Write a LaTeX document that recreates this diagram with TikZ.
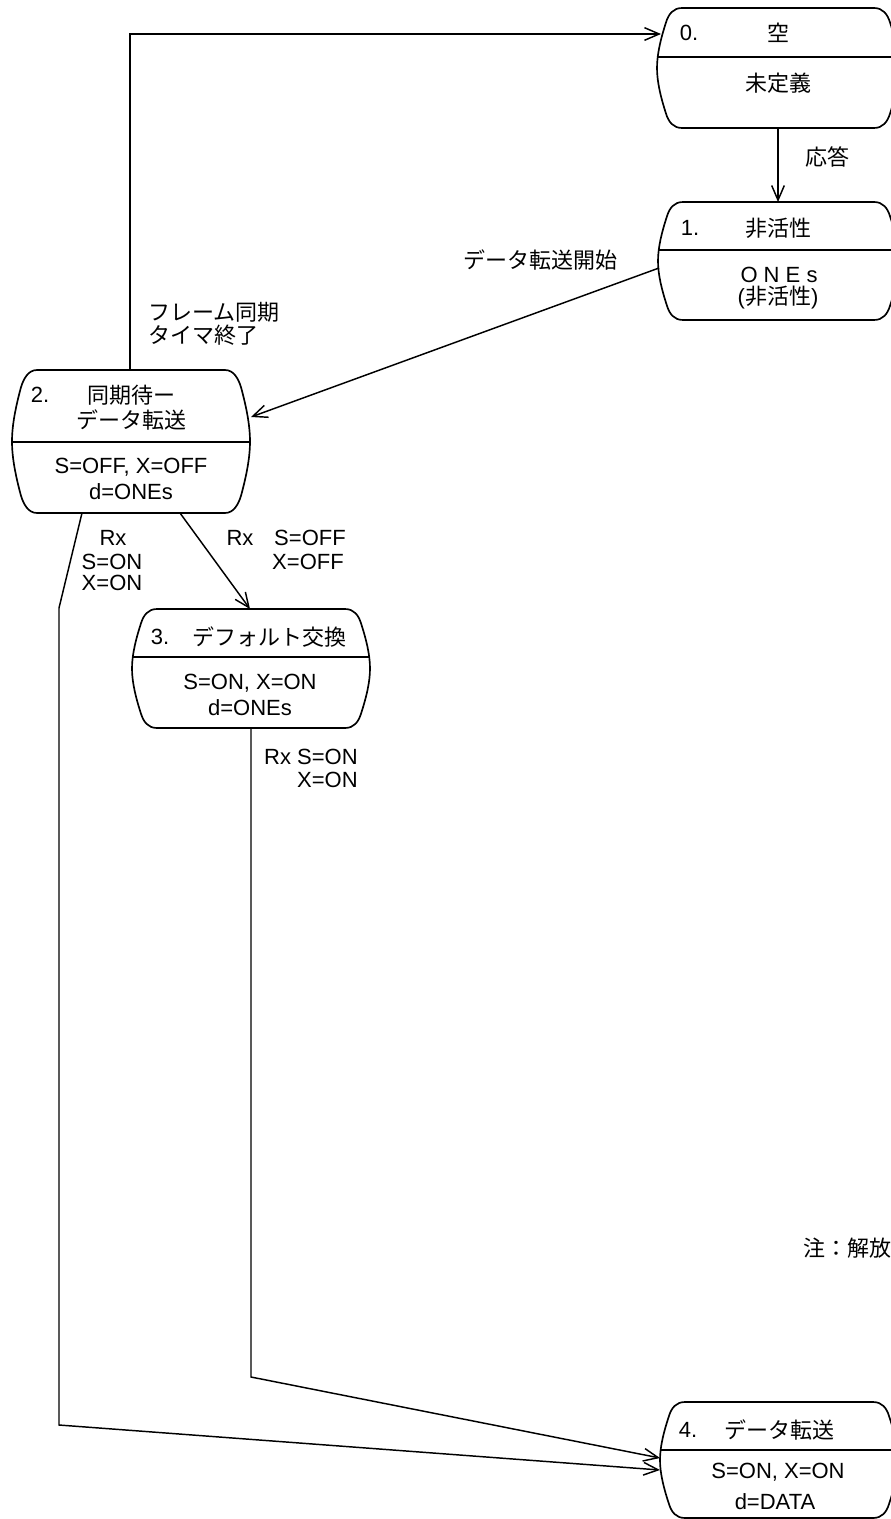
\documentclass[tikz,border=0pt]{standalone}
\usepackage{fontspec}
\setmainfont{Liberation Sans}
\newfontfamily\jp{Noto Sans CJK JP}
\usetikzlibrary{arrows.meta}
\newcommand\fsz{\fontsize{16.5}{19}\selectfont}
\tikzset{
  edge/.style={line width=1.1pt, -{Straight Barb[length=11pt,width=9.5pt]}},
  boxline/.style={line width=1.25pt},
  lab/.style={font=\fsz, inner sep=0pt},
  jlab/.style={font=\fsz\jp, inner sep=0pt},
}
% L R T B D
\newcommand\stbox[5]{%
  \pgfmathsetmacro\sbh{#4-#3}%
  \pgfmathsetmacro\sbm{(#3+#4)/2}%
  \pgfmathsetmacro\sbq{0.12*\sbh}%
  \pgfmathsetmacro\sbr{0.25*\sbh}%
  \pgfmathsetmacro\sbs{0.38*\sbh}%
  \def\sbpath{({#1+25},#3) -- ({#2-25},#3)
    .. controls ({#2-16},#3) and ({#2-11.5},{#3+\sbq-8}) .. ({#2-9},{#3+\sbq})
    .. controls ({#2-4},{#3+\sbr}) and (#2,{#3+\sbs}) .. (#2,\sbm)
    .. controls (#2,{#4-\sbs}) and ({#2-4},{#4-\sbr}) .. ({#2-9},{#4-\sbq})
    .. controls ({#2-11.5},{#4-\sbq+8}) and ({#2-16},#4) .. ({#2-25},#4)
    -- ({#1+25},#4)
    .. controls ({#1+16},#4) and ({#1+11.5},{#4-\sbq+8}) .. ({#1+9},{#4-\sbq})
    .. controls ({#1+4},{#4-\sbr}) and (#1,{#4-\sbs}) .. (#1,\sbm)
    .. controls (#1,{#3+\sbs}) and ({#1+4},{#3+\sbr}) .. ({#1+9},{#3+\sbq})
    .. controls ({#1+11.5},{#3+\sbq-8}) and ({#1+16},#3) .. ({#1+25},#3) -- cycle}%
  \draw[boxline] \sbpath;
  \begin{scope}
    \clip \sbpath;
    \draw[boxline] (#1,#5) -- (#2,#5);
  \end{scope}%
}
\begin{document}
\begin{tikzpicture}[x=0.75pt,y=-0.75pt]
\useasboundingbox (0,0) rectangle (891,1519);
\clip (0,0) rectangle (891,1519);
\fill[white] (0,0) rectangle (891,1519);

% state boxes
\stbox{657}{899}{8}{128}{57}
\stbox{658}{899}{202}{320}{250}
\stbox{12}{250}{370}{513}{442}
\stbox{132}{370}{609}{728}{657}
\stbox{660}{898}{1402}{1518}{1450}

% box texts
\node[lab]  (n0) at (689,33) {0.};
\node[jlab] (t0) at (778,33) {空};
\node[jlab] (b0) at (778,83) {未定義};

\node[lab]  (n1) at (690,228) {1.};
\node[jlab] (t1) at (778,228) {非活性};
\node[lab]  (b1a) at (779,275) {O N E s};
\node[lab]  (b1b) at (778,298) {({\jp 非活性})};

\node[lab]  (n2) at (40,395) {2.};
\node[jlab] (t2a) at (131,395) {同期待ー};
\node[jlab] (t2b) at (131,420) {データ転送};
\node[lab]  (b2a) at (131,467) {S=OFF, X=OFF};
\node[lab]  (b2b) at (131,492) {d=ONEs};

\node[lab]  (n3) at (160,637) {3.};
\node[jlab] (t3) at (269,637) {デフォルト交換};
\node[lab]  (b3a) at (250,683) {S=ON, X=ON};
\node[lab]  (b3b) at (250,708) {d=ONEs};

\node[lab]  (n4) at (688,1430) {4.};
\node[jlab] (t4) at (779,1430) {データ転送};
\node[lab]  (b4a) at (778,1472) {S=ON, X=ON};
\node[lab]  (b4b) at (775,1502) {d=DATA};

% connector anchor points
\coordinate (s2top) at (130,370);
\coordinate (k1) at (130,34);
\coordinate (s0w) at (661,34);
\coordinate (s0s) at (778,128);
\coordinate (s1n) at (778,202);
\coordinate (s1w) at (659,268);
\coordinate (s2e) at (251,417);
\coordinate (s2sR) at (180,513);
\coordinate (s3n) at (250,609);
\coordinate (s2sL) at (82,513);
\coordinate (k2) at (59,608);
\coordinate (k3) at (59,1425);
\coordinate (s4wb) at (660,1470);
\coordinate (s3s) at (251,728);
\coordinate (k4) at (251,1377);
\coordinate (s4wa) at (660,1458);

% connectors
\draw[edge] (s2top) -- (k1) -- (s0w);
\draw[edge] (s0s) -- (s1n);
\draw[edge] (s1w) -- (s2e);
\draw[edge] (s2sR) -- (s3n);
\draw[edge] (s2sL) -- (k2) -- (k3) -- (s4wb);
\draw[edge] (s3s) -- (k4) -- (s4wa);

% connector labels
\node[jlab, anchor=west] (l01) at (805,157) {応答};
\node[jlab, anchor=west] (l12) at (463,260) {データ転送開始};
\node[jlab, anchor=west] (l20a) at (148,312) {フレーム同期};
\node[jlab, anchor=west] (l20b) at (148,335) {タイマ終了};
\node[lab] (l24a) at (113,538) {Rx};
\node[lab] (l24b) at (112,562) {S=ON};
\node[lab] (l24c) at (112,583) {X=ON};
\node[lab] (l23a) at (240,538) {Rx};
\node[lab] (l23b) at (310,538) {S=OFF};
\node[lab] (l23c) at (308,562) {X=OFF};
\node[lab, anchor=east] (l34a) at (358,757) {Rx S=ON};
\node[lab, anchor=east] (l34b) at (358,780) {X=ON};
\node[jlab, anchor=west] (note) at (803,1248) {注：解放};
\end{tikzpicture}
\end{document}
